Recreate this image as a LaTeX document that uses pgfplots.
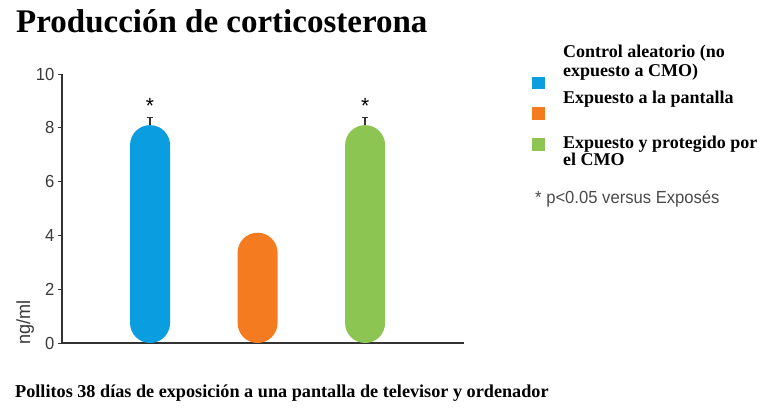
\documentclass[border=0pt]{standalone}
\usepackage{fontspec}
\setmainfont{Liberation Serif}
\newfontfamily\chartsans[FakeStretch=0.95]{Liberation Sans}
\usepackage{pgfplots}
\pgfplotsset{compat=1.18}

\definecolor{cblue}{HTML}{0A9DE0}
\definecolor{corange}{HTML}{F47B20}
\definecolor{cgreen}{HTML}{8DC553}
\definecolor{caxis}{HTML}{333333}
\definecolor{ctick}{HTML}{3A3A3A}
\definecolor{cnote}{HTML}{4A4A4A}

\begin{document}
\begin{tikzpicture}[x=1pt,y=1pt]
\useasboundingbox (0,0) rectangle (775,408);

% titulo y pie
\node[anchor=base west, inner sep=0pt, font=\fontsize{33}{36}\selectfont\bfseries]
  at (16,375) {Producción de corticosterona};
\node[anchor=base west, inner sep=0pt, font=\fontsize{18.2}{20}\selectfont\bfseries]
  at (15,11) {Pollitos 38 días de exposición a una pantalla de televisor y ordenador};
\node[anchor=base west, inner sep=0pt, text=cnote, font=\chartsans\fontsize{17.5}{19}\selectfont]
  at (535,205) {* p<0.05 versus Exposés};
\node[anchor=base west, rotate=90, inner sep=0pt, text=ctick, font=\chartsans\fontsize{19}{21}\selectfont]
  at (30,63) {ng/ml};

% textos de la leyenda
\begin{scope}[every node/.style={anchor=base west, inner sep=0pt, font=\fontsize{18}{18}\selectfont\bfseries}]
\node at (563,350.7) {Control aleatorio (no};
\node at (563,331.3) {expuesto a CMO)};
\node at (563,304.7) {Expuesto a la pantalla};
\node at (563,259.7) {Expuesto y protegido por};
\node at (563,243) {el CMO};
\end{scope}

\begin{axis}[
  at={(62pt,65pt)}, anchor=south west,
  scale only axis, width=402pt, height=269pt,
  xmin=0.181, xmax=3.92, ymin=0, ymax=10,
  axis x line=bottom, axis y line=left,
  axis line style={-, draw=caxis, line width=1.5pt},
  xtick=\empty, ytick={0,2,4,6,8,10},
  tick align=outside, major tick length=4pt,
  tick style={draw=caxis, line width=1pt},
  yticklabel style={font=\chartsans\fontsize{17.5}{19}\selectfont, text=ctick},
  /pgf/number format/assume math mode=true,
  ybar, bar width=40pt, bar shift=0pt,
  legend style={draw=none, fill=none, at={(1.1692,0.990)}, anchor=north west,
    inner sep=0pt, outer sep=0pt, column sep=0pt, row sep=17.4pt,
    nodes={inner sep=0pt}},
]
\addplot[fill=cblue, draw=none, rounded corners=20pt,
  legend image code/.code={\fill[cblue, sharp corners] (0pt,0pt) rectangle (12.6pt,12.6pt);}]
  coordinates {(1,8.1)};
\addlegendentry{}
\addplot[fill=corange, draw=none, rounded corners=20pt,
  legend image code/.code={\fill[corange, sharp corners] (0pt,0pt) rectangle (12.6pt,12.6pt);}]
  coordinates {(2,4.1)};
\addlegendentry{}
\addplot[fill=cgreen, draw=none, rounded corners=20pt,
  legend image code/.code={\fill[cgreen, sharp corners] (0pt,0pt) rectangle (12.6pt,12.6pt);}]
  coordinates {(3,8.1)};
\addlegendentry{}

% barras de error
\addplot[draw=none, fill=none, forget plot,
  error bars/.cd, y dir=plus, y explicit,
  error bar style={draw=caxis, line width=1.2pt},
  error mark options={draw=caxis, line width=1.2pt, mark size=3pt, rotate=90}]
  coordinates {(1,8.1) +- (0,0.27) (3,8.1) +- (0,0.27)};

\node[font=\chartsans\fontsize{22}{24}\selectfont] at (axis cs:1,8.8) {*};
\node[font=\chartsans\fontsize{22}{24}\selectfont] at (axis cs:3,8.8) {*};
\end{axis}
\end{tikzpicture}
\end{document}
